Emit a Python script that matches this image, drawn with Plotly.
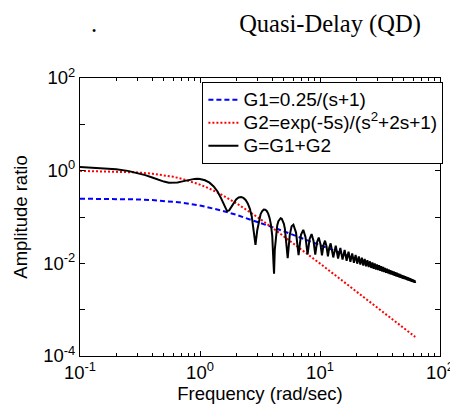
import plotly.graph_objects as go

# ---------------- data ----------------
freq_g1 = [0.1, 0.2, 0.3, 0.4, 0.5, 0.7, 1.0, 1.2, 1.5, 2.0, 2.5, 3.0, 4.0, 5.0, 7.0,
           10.0, 15.0, 20.0, 30.0, 40.0, 50.0, 62.2]
amp_g1 = [0.2488, 0.2451, 0.2395, 0.2321, 0.2236, 0.2048, 0.1768, 0.1601, 0.1387, 0.1118,
          0.0928, 0.0791, 0.0606, 0.0490, 0.0354, 0.0249, 0.01663, 0.01249, 0.00833,
          0.00625, 0.0050, 0.00402]

freq_g2 = [0.1, 0.2, 0.3, 0.4, 0.5, 0.6, 0.7, 0.85, 1.0, 1.2, 1.5, 2.0, 2.5, 3.0, 4.0,
           5.0, 7.0, 10.0, 15.0, 20.0, 30.0, 40.0, 50.0, 62.2]
amp_g2 = [0.990, 0.9615, 0.9174, 0.8621, 0.800, 0.7353, 0.671, 0.5806, 0.500, 0.4098,
          0.3077, 0.200, 0.1379, 0.100, 0.0588, 0.0385, 0.0200, 0.0099, 0.00442,
          0.00249, 0.00111, 0.000624, 0.0004, 0.000258]

freq_g = [0.1, 0.15, 0.2, 0.25, 0.3, 0.35, 0.4, 0.45, 0.5, 0.55, 0.6, 0.65, 0.7,
          0.8, 0.9, 0.95, 1.0,
          1.1, 1.2, 1.3, 1.4, 1.5, 1.6,
          1.68, 1.75, 1.8,
          1.9, 2.0, 2.1, 2.2, 2.3, 2.4, 2.5, 2.6, 2.7, 2.8, 2.9, 3.0,
          3.1, 3.2, 3.3, 3.4, 3.5, 3.6, 3.7, 3.8, 3.9, 4.0, 4.1,
          4.14,
          4.2, 4.3, 4.4, 4.5, 4.6, 4.7, 4.8, 4.9, 5.0, 5.1, 5.2, 5.3,
          5.38, 5.6, 5.8,
          6.003, 6.315, 6.627, 6.94, 7.254, 7.567, 7.879, 8.193, 8.506, 8.82,
          9.133, 9.447, 9.76, 10.073, 10.386, 10.7, 11.014, 11.328, 11.641, 11.955,
          12.268, 12.897, 13.524, 14.151, 14.779, 15.407, 16.034, 16.662,
          17.29, 17.918, 18.546, 19.174, 19.801, 20.43,
          21.058, 21.686, 22.314, 22.942, 23.57, 24.198, 24.827, 25.455,
          26.083, 26.711, 27.339, 27.968, 28.596, 29.224, 29.852, 30.48,
          31.108, 31.736, 32.365, 32.993, 33.621, 34.249, 34.877, 35.505,
          36.133, 36.762, 37.39, 38.018, 38.646, 39.275, 39.903, 40.531,
          41.159, 41.788, 42.416, 43.044, 43.672, 44.3, 44.929, 45.557,
          46.185, 46.814, 47.442, 48.07, 48.698, 49.327, 49.955, 50.584,
          51.212, 51.84, 52.468, 53.097, 53.725, 54.353, 54.981, 55.61,
          56.238, 56.866, 57.494, 58.123, 58.751, 59.38, 60.008, 60.636,
          61.264, 61.893,
          62.2]
amp_g = [1.204, 1.148, 1.076, 0.990, 0.896, 0.801, 0.712, 0.637, 0.581, 0.551, 0.544, 0.557, 0.580,
         0.633, 0.665, 0.667, 0.661,
         0.621, 0.550, 0.458, 0.355, 0.252, 0.168,
         0.134, 0.139, 0.156,
         0.201, 0.240, 0.263, 0.269, 0.258, 0.233, 0.197, 0.152, 0.103, 0.0547, 0.0249, 0.0519,
         0.0871, 0.1155, 0.1346, 0.1442, 0.1441, 0.1351, 0.1181, 0.0956, 0.0684, 0.039, 0.0097,
         0.006,
         0.0196, 0.0448, 0.0657, 0.0813, 0.091, 0.0945, 0.092, 0.0839, 0.0715, 0.0554, 0.0373, 0.0196,
         0.013, 0.0413, 0.0629,
         0.0681, 0.0461, 0.0150, 0.0411, 0.0528, 0.0370, 0.0156, 0.0337, 0.0428, 0.0309,
         0.0154, 0.0286, 0.0359, 0.0266, 0.0148, 0.0248, 0.0308, 0.0233, 0.0141, 0.0220,
         0.0269, 0.0134, 0.0239, 0.0127, 0.0214, 0.0120, 0.0194, 0.0114,
         0.0178, 0.0108, 0.0164, 0.0103, 0.0152, 0.00983,
         0.01413, 0.00939, 0.01321, 0.0090, 0.01241, 0.00862, 0.01169, 0.00828,
         0.01106, 0.00796, 0.01048, 0.00766, 0.00997, 0.00738, 0.0095, 0.00713,
         0.00907, 0.00688, 0.00868, 0.00666, 0.00832, 0.00645, 0.00799, 0.00625,
         0.00769, 0.00606, 0.0074, 0.00588, 0.00714, 0.00572, 0.00689, 0.00556,
         0.00666, 0.00541, 0.00645, 0.00527, 0.00625, 0.00513, 0.00606, 0.00501,
         0.00588, 0.00488, 0.00571, 0.00477, 0.00556, 0.00466, 0.00541, 0.00455,
         0.00526, 0.00445, 0.00513, 0.00435, 0.0050, 0.00426, 0.00488, 0.00417,
         0.00476, 0.00409, 0.00465, 0.00401, 0.00455, 0.00393, 0.00444, 0.00385,
         0.00435, 0.00378,
         0.0040]

x_tickvals = [0.1, 1, 10, 100]
x_ticktext = ["10<sup>-1</sup>", "10<sup>0</sup>", "10<sup>1</sup>", "10<sup>2</sup>"]
x_minor = [m * d for d in (0.1, 1, 10) for m in range(2, 10)]
y_tickvals = [1e-4, 1e-3, 1e-2, 1e-1, 1, 10, 100]
y_ticktext = ["10<sup>-4</sup>", "", "10<sup>-2</sup>", "", "10<sup>0</sup>", "", "10<sup>2</sup>"]

names = ["G1=0.25/(s+1)", "G2=exp(-5s)/(s<sup>2</sup>+2s+1)", "G=G1+G2"]
LEG_TXT = 19
legend_names = ['<span style="font-size:%gpx">%s</span>' % (LEG_TXT, t) for t in names]

# ---------------- figure ----------------
fig = go.Figure()
fig.add_trace(go.Scatter(x=freq_g1, y=amp_g1, mode="lines", name=legend_names[0],
                         line=dict(color="#0000FF", width=2, dash="5px,3px")))
fig.add_trace(go.Scatter(x=freq_g2, y=amp_g2, mode="lines", name=legend_names[1],
                         line=dict(color="#FF0000", width=2, dash="2px,2px")))
n = min(len(freq_g), len(amp_g))
fig.add_trace(go.Scatter(x=freq_g[:n], y=amp_g[:n], mode="lines", name=legend_names[2],
                         line=dict(color="black", width=2)))

axis_common = dict(showline=True, linecolor="black", linewidth=1, mirror="allticks",
                   ticks="inside", ticklen=5, tickcolor="black", showgrid=False,
                   zeroline=False, tickfont=dict(size=18.5))

fig.update_xaxes(type="log", range=[-1, 2], tickvals=x_tickvals, ticktext=x_ticktext,
                 minor=dict(ticks="inside", ticklen=3, tickcolor="black",
                            tickvals=x_minor, showgrid=False),
                 title=dict(text="Frequency (rad/sec)", standoff=4, font=dict(size=18.5)),
                 **axis_common)
fig.update_yaxes(type="log", range=[-4, 2], tickvals=y_tickvals, ticktext=y_ticktext,
                 title=dict(text="Amplitude ratio", standoff=10, font=dict(size=18.5)),
                 **axis_common)

fig.update_layout(
    width=458, height=404, autosize=False,
    margin=dict(l=71, r=16, t=70, b=51, pad=0),
    paper_bgcolor="white", plot_bgcolor="white",
    font=dict(family="Liberation Sans, Arial, sans-serif", size=18.5, color="black"),
    title=dict(text="Quasi-Delay (QD)", x=0.703, xanchor="center", y=0.962,
               yanchor="middle", font=dict(family="Liberation Serif, Times New Roman, serif",
                                           size=24.5, color="black")),
    legend=dict(x=0.34, y=0.985, xanchor="left", yanchor="top", bordercolor="black",
                borderwidth=1, bgcolor="white", font=dict(size=15.4), itemwidth=30,
                tracegroupgap=0),
    annotations=[dict(text=".", xref="paper", yref="paper", x=(85 - 71) / 371,
                      y=(353 - 15) / 283, xanchor="center", yanchor="middle",
                      showarrow=False,
                      font=dict(family="Liberation Serif, Times New Roman, serif",
                                size=24.5, color="black"))],
)

fig.write_html("out.html")
